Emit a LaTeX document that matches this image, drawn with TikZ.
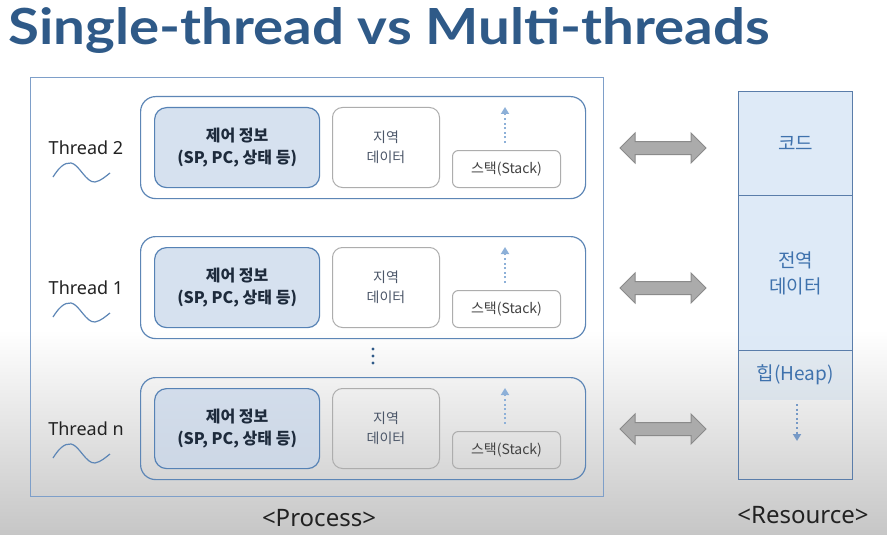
\documentclass[tikz,border=0pt]{standalone}
\usepackage{fontspec}
\setmainfont{Noto Sans}
\newfontfamily\krfont{Noto Sans CJK KR}
\newfontfamily\titlefont{Lato}
\usetikzlibrary{arrows.meta}

\definecolor{titleblue}{HTML}{2F5A88}
\definecolor{frameblue}{HTML}{7E9FC9}
\definecolor{rowblue}{HTML}{5D86B6}
\definecolor{ctrlfill}{HTML}{C9D7EA}
\definecolor{ctrlline}{HTML}{5682B5}
\definecolor{graybox}{HTML}{ADADAD}
\definecolor{resline}{HTML}{5A7DAA}
\definecolor{resfill}{HTML}{D6E5F5}
\definecolor{restext}{HTML}{3F72AD}
\definecolor{dotblue}{HTML}{8DB0D8}
\definecolor{heapdot}{HTML}{7699C6}
\definecolor{arrowfill}{HTML}{ABABAB}
\definecolor{arrowline}{HTML}{8A8A8A}
\definecolor{bggray}{HTML}{C6C6C6}
\definecolor{labeltext}{HTML}{222222}
\definecolor{ctrltext}{HTML}{1E2B3C}
\definecolor{localtext}{HTML}{4B5668}

\tikzset{
  rowbox/.style={draw=rowblue, line width=1.2pt, rounded corners=15pt,
    minimum width=445pt, minimum height=102pt, anchor=north west, inner sep=0pt},
  ctrlbox/.style={draw=ctrlline, fill=ctrlfill, fill opacity=0.75, text opacity=1,
    line width=1.2pt, rounded corners=12pt,
    minimum width=165pt, minimum height=80pt, anchor=north west, inner sep=0pt,
    align=center, text=ctrltext, font=\krfont\bfseries\fontsize{16}{22}\selectfont},
  localbox/.style={draw=graybox, line width=1pt, rounded corners=10pt,
    minimum width=107pt, minimum height=80pt, anchor=north west, inner sep=0pt,
    align=center, text=localtext, font=\krfont\fontsize{14}{20}\selectfont},
  stackbox/.style={draw=graybox, line width=1pt, rounded corners=6pt,
    minimum width=108pt, minimum height=37pt, anchor=north west, inner sep=0pt,
    text=labeltext!85, font=\krfont\fontsize{14}{16}\selectfont},
  threadlabel/.style={text=labeltext, font=\fontsize{18}{20}\selectfont, inner sep=0pt},
  wave/.style={draw=rowblue, line width=1.2pt},
  growarrow/.style={draw=dotblue, line width=2.2pt, dash pattern=on 2pt off 2.6pt,
    -{Triangle[length=7pt,width=8pt]}},
  caption/.style={text=labeltext, font=\fontsize{24}{26}\selectfont, inner sep=0pt},
  restxt/.style={text=restext, align=center, font=\krfont\fontsize{19}{26}\selectfont},
  dblarrow/.pic={
    \draw[fill=arrowfill, draw=arrowline, line width=1pt, line join=miter]
      (-43,0) -- (-28,-15) -- (-28,-6.5) -- (28,-6.5) -- (28,-15) -- (43,0)
      -- (28,15) -- (28,6.5) -- (-28,6.5) -- (-28,15) -- cycle;
  }
}

\begin{document}
\begin{tikzpicture}[x=1pt, y=-1pt]
  \useasboundingbox (0,0) rectangle (887,535);

  % page background: white, fading to grey towards the bottom
  \fill[white] (0,0) rectangle (887,331);
  \shade[top color=white, bottom color=bggray] (0,330) rectangle (887,535);

  % title
  \node[anchor=north west, inner sep=0pt, text=titleblue] (title) at (8,7)
    {\resizebox*{762pt}{46pt}{\titlefont\bfseries Single-thread vs Multi-threads}};

  % process frame
  \node[draw=frameblue, line width=1.2pt, minimum width=573pt, minimum height=419pt,
    anchor=north west, inner sep=0pt] (process) at (30,77) {};
  \node[caption] (processcap) at (319,518) {<Process>};

  % one row per thread
  \foreach \i/\top/\name in {a/96/Thread 2, b/236/Thread 1, c/377/Thread n} {
    \node[rowbox] (row\i) at (140,\top) {};
    \node[ctrlbox] (ctrl\i) at (154,\top+11) {제어 정보\\(SP, PC, 상태 등)};
    \node[localbox] (local\i) at (332,\top+11) {지역\\데이터};
    \node[stackbox] (stack\i) at (452,\top+54) {스택(Stack)};
    \coordinate (grow\i) at (505,\top+11);
    \draw[growarrow] (505,\top+47) -- (grow\i);
    \node[threadlabel] (label\i) at (86,\top+52) {\name};
    \draw[wave] (53,\top+81) .. controls (58,\top+73) and (64,\top+66) .. (71,\top+67)
      .. controls (79,\top+68) and (86,\top+87) .. (95,\top+86)
      .. controls (101,\top+85) and (106,\top+80) .. (110,\top+77);
    \pic (link\i) at (663,\top+52) {dblarrow};
  }

  % ellipsis between thread 1 and thread n
  \foreach \y in {349,356,363}
    \fill[titleblue] (373,\y) circle (1.6pt);

  % shared resources
  \node[draw=resline, fill=resfill, fill opacity=0.8, line width=1.2pt,
    minimum width=114pt, minimum height=104pt, anchor=north west, inner sep=0pt]
    (code) at (738,91) {};
  \node[draw=resline, fill=resfill, fill opacity=0.8, line width=1.2pt,
    minimum width=114pt, minimum height=155pt, anchor=north west, inner sep=0pt]
    (data) at (738,195) {};
  \fill[resfill!90!gray, opacity=0.55] (738,350) rectangle (852,400);
  \node[draw=resline, line width=1.2pt,
    minimum width=114pt, minimum height=129pt, anchor=north west, inner sep=0pt]
    (heap) at (738,350) {};
  \node[restxt] at (code.center) {코드};
  \node[restxt] at (data.center) {전역\\데이터};
  \node[restxt] (heaptxt) at (795,375) {힙(Heap)};
  \coordinate (heapgrow) at (797,441);
  \draw[growarrow, draw=heapdot] (797,404) -- (heapgrow);
  \node[caption] (rescap) at (803,515) {<Resource>};
\end{tikzpicture}
\end{document}
